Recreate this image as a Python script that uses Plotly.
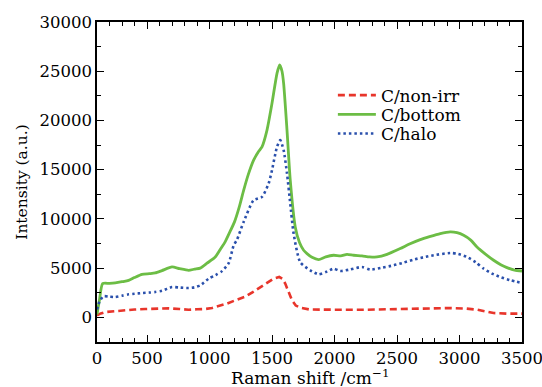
import plotly.graph_objects as go

# ---- data ----
x_bottom = [100, 120, 145, 200, 246, 300, 353, 400, 460, 520, 566, 620, 700, 760, 833, 880, 926, 980,
            1046, 1086, 1126, 1160, 1200, 1240, 1273, 1310, 1353, 1390, 1420, 1460, 1500, 1540, 1561,
            1580, 1593, 1620, 1646, 1686, 1720, 1753, 1780, 1820, 1873, 1930, 1993, 2050, 2100, 2153,
            2220, 2280, 2340, 2420, 2526, 2600, 2686, 2760, 2846, 2926, 2980, 3033, 3090, 3140, 3200,
            3273, 3330, 3380, 3440, 3500]
y_bottom = [300, 1800, 3430, 3450, 3500, 3620, 3760, 4050, 4370, 4440, 4510, 4750, 5120, 4950, 4780,
            4900, 5000, 5500, 6130, 6900, 7700, 8600, 9700, 11300, 12900, 14500, 15970, 16800, 17320,
            19020, 21740, 24790, 25640, 25000, 23770, 19020, 13940, 9190, 7600, 6820, 6480, 6100, 5870,
            6150, 6310, 6250, 6400, 6310, 6250, 6150, 6140, 6400, 6990, 7450, 7900, 8200, 8510, 8680,
            8600, 8340, 7850, 7150, 6500, 5800, 5350, 5050, 4800, 4710]

x_halo = [100, 120, 151, 200, 246, 300, 353, 400, 460, 520, 566, 620, 700, 760, 833, 880, 926, 993,
          1050, 1100, 1153, 1193, 1220, 1273, 1353, 1420, 1473, 1500, 1540, 1566, 1593, 1620, 1646,
          1673, 1726, 1806, 1873, 1930, 1993, 2046, 2120, 2220, 2286, 2380, 2473, 2550, 2633, 2710,
          2793, 2926, 2990, 3060, 3130, 3193, 3260, 3326, 3400, 3500]
y_halo = [800, 1600, 2140, 2100, 2070, 2200, 2340, 2400, 2470, 2520, 2580, 2700, 3080, 3030, 2980,
          3050, 3250, 3930, 4300, 4700, 5500, 7300, 7900, 9700, 11900, 12240, 13600, 14950, 17320,
          18000, 16990, 14620, 11570, 8510, 5600, 4780, 4370, 4600, 4950, 4710, 4850, 5120, 4850,
          5050, 5290, 5550, 5870, 6100, 6310, 6540, 6450, 6130, 5600, 4950, 4450, 4100, 3800, 3490]

x_nonirr = [100, 130, 166, 230, 300, 400, 486, 580, 673, 760, 833, 900, 966, 1020, 1073, 1140, 1206,
            1246, 1286, 1350, 1406, 1460, 1513, 1558, 1585, 1606, 1635, 1660, 1690, 1726, 1800, 1860,
            2000, 2260, 2526, 2750, 2926, 3050, 3140, 3210, 3273, 3380, 3486, 3500]
y_nonirr = [200, 400, 540, 620, 710, 800, 850, 880, 920, 850, 780, 820, 850, 950, 1150, 1400, 1730,
            1900, 2100, 2600, 3080, 3500, 3940, 4100, 3900, 3430, 2500, 1730, 1200, 990, 800, 780,
            780, 780, 850, 900, 950, 900, 780, 600, 440, 380, 370, 380]

x_tickvals = [100, 500, 1000, 1500, 2000, 2500, 3000, 3500]
x_ticktext = ["0", "500", "1000", "1500", "2000", "2500", "3000", "3500"]
y_tickvals = [0, 5000, 10000, 15000, 20000, 25000, 30000]
y_ticktext = ["0", "5000", "10000", "15000", "20000", "25000", "30000"]

FONT = "DejaVu Serif"

fig = go.Figure()
fig.add_trace(go.Scatter(x=x_nonirr, y=y_nonirr, mode="lines", name="C/non-irr",
                         line=dict(color="#e8352b", width=2.6, dash="7px,4px"),
                         legend="legend"))
fig.add_trace(go.Scatter(x=x_bottom, y=y_bottom, mode="lines", name="C/bottom",
                         line=dict(color="#6cbd45", width=2.8, shape="spline", smoothing=0.6),
                         legend="legend2"))
fig.add_trace(go.Scatter(x=x_halo, y=y_halo, mode="lines", name="C/halo",
                         line=dict(color="#2a50ac", width=2.6, dash="2.5px,3px", shape="spline", smoothing=0.6),
                         legend="legend3"))

axis_common = dict(showline=True, linecolor="black", linewidth=1.5, mirror="allticks",
                   ticks="inside", ticklen=7, tickwidth=1.3, tickcolor="black",
                   showgrid=False, zeroline=False, ticklabeloverflow="allow", automargin=False,
                   tickfont=dict(family=FONT, size=16.5, color="black"))

fig.update_xaxes(range=[100, 3500], tickmode="array", tickvals=x_tickvals, ticktext=x_ticktext,
                 minor=dict(ticks="inside", ticklen=4, tickwidth=1.2, tickcolor="black",
                            tick0=0, dtick=100, showgrid=False),
                 **axis_common)
fig.update_yaxes(range=[-2500, 30000], tickmode="array", tickvals=y_tickvals, ticktext=y_ticktext,
                 minor=dict(ticks="inside", ticklen=4, tickwidth=1.2, tickcolor="black",
                            tick0=0, dtick=2500, showgrid=False),
                 title=dict(text="Intensity (a.u.)", font=dict(family=FONT, size=15.5, color="black"),
                            standoff=8),
                 **axis_common)

# x-axis title as an annotation so it can sit low, as in the reference
fig.add_annotation(text="Raman shift /cm<sup>−1</sup>", xref="paper", yref="paper",
                   x=0.502, y=0, xanchor="center", yanchor="top", yshift=-22,
                   showarrow=False, font=dict(family=FONT, size=17, color="black"))

leg_common = dict(x=0.555, xanchor="left", yanchor="middle", bgcolor="rgba(0,0,0,0)",
                  font=dict(family=FONT, size=17, color="black"), borderwidth=0,
                  itemwidth=38)
fig.update_layout(
    width=542, height=387,
    margin=dict(l=97, r=20, t=22, b=45),
    paper_bgcolor="white", plot_bgcolor="white",
    showlegend=True,
    legend=dict(y=0.770, **leg_common),
    legend2=dict(y=0.710, **leg_common),
    legend3=dict(y=0.650, **leg_common),
)

fig.write_html("out.html")
